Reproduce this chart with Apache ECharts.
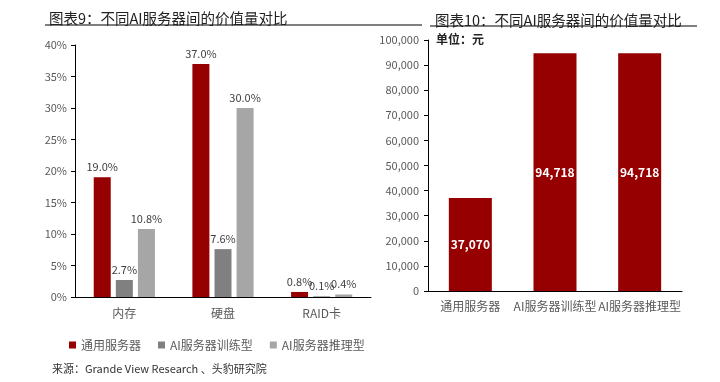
<!DOCTYPE html>
<html><head><meta charset="utf-8">
<script src="https://cdn.jsdelivr.net/npm/echarts@6/dist/echarts.min.js"></script>
<style>html,body{margin:0;padding:0;background:#fff}#c{width:720px;height:382px}</style>
</head><body><div id="c"></div>
<script>
// Left chart (图表9)
const leftCategories = ['内存', '硬盘', 'RAID卡'];
const seriesNames = ['通用服务器', 'AI服务器训练型', 'AI服务器推理型'];
const generalServer = [19.0, 37.0, 0.8];
const aiTraining = [2.7, 7.6, 0.1];
const aiInference = [10.8, 30.0, 0.4];
const leftTicks = [0, 5, 10, 15, 20, 25, 30, 35, 40];
// Right chart (图表10)
const rightCategories = ['通用服务器', 'AI服务器训练型', 'AI服务器推理型'];
const rightValues = [37070, 94718, 94718];

const colors = ['#960000', '#808080', '#A6A6A6'];
const FONT = '"Noto Sans CJK SC", "Noto Sans", sans-serif';
const chart = echarts.init(document.getElementById('c'));
const axisLineStyle = {color: '#000', width: 1};
const leftSeriesData = [generalServer, aiTraining, aiInference];

const option = {
  animation: false,
  textStyle: {fontFamily: FONT},
  title: [
    {text: '图表9：不同AI服务器间的价值量对比', left: 44, top: 6,
     textStyle: {fontSize: 14.5, fontWeight: 'normal', color: '#222', fontFamily: FONT}},
    {text: '图表10：不同AI服务器间的价值量对比', left: 430, top: 8,
     textStyle: {fontSize: 14.5, fontWeight: 'normal', color: '#222', fontFamily: FONT}},
    {text: '单位：元', left: 431, top: 28,
     textStyle: {fontSize: 12, fontWeight: 'bold', color: '#222', fontFamily: FONT}},
    {text: '来源：Grande View Research 、头豹研究院', left: 47, top: 358,
     textStyle: {fontSize: 11, fontWeight: 'normal', color: '#333', fontFamily: FONT}}
  ],
  graphic: [
    {type: 'line', shape: {x1: 45, y1: 25, x2: 422, y2: 25}, style: {stroke: '#000', lineWidth: 1}},
    {type: 'line', shape: {x1: 430, y1: 26, x2: 697, y2: 26}, style: {stroke: '#000', lineWidth: 1}}
  ],
  legend: {
    data: seriesNames, left: 64, top: 334, itemWidth: 7, itemHeight: 7, itemGap: 17,
    icon: 'rect', textStyle: {fontSize: 12, color: '#595959', fontFamily: FONT}
  },
  grid: [
    {left: 75, top: 45, width: 296, height: 252},
    {left: 428, top: 40, width: 254, height: 251}
  ],
  xAxis: [
    {type: 'category', gridIndex: 0, data: leftCategories,
     axisLine: {lineStyle: axisLineStyle}, axisTick: {length: 4, lineStyle: axisLineStyle},
     axisLabel: {fontSize: 12, color: '#595959', margin: 10, fontFamily: FONT}},
    {type: 'category', gridIndex: 1, data: rightCategories,
     axisLine: {lineStyle: axisLineStyle}, axisTick: {length: 4, lineStyle: axisLineStyle},
     axisLabel: {fontSize: 12, color: '#595959', margin: 9, interval: 0, fontFamily: FONT}}
  ],
  yAxis: [
    {type: 'value', gridIndex: 0, min: leftTicks[0], max: leftTicks[leftTicks.length - 1], interval: 5,
     axisLine: {show: true, lineStyle: axisLineStyle}, axisTick: {show: true, length: 4, lineStyle: axisLineStyle},
     splitLine: {show: false},
     axisLabel: {fontSize: 11, color: '#595959', margin: 8, formatter: v => v + '%'}},
    {type: 'value', gridIndex: 1, min: 0, max: 100000, interval: 10000,
     axisLine: {show: true, lineStyle: axisLineStyle}, axisTick: {show: true, length: 4, lineStyle: axisLineStyle},
     splitLine: {show: false},
     axisLabel: {fontSize: 11, color: '#595959', margin: 9, formatter: v => v.toLocaleString('en-US')}}
  ],
  series: seriesNames.map((name, i) => ({
    name, type: 'bar', xAxisIndex: 0, yAxisIndex: 0, data: leftSeriesData[i],
    barWidth: 17, barGap: '30%', itemStyle: {color: colors[i]},
    label: {show: true, position: 'top', distance: 5, fontSize: 11, color: '#404040',
            formatter: p => p.value.toFixed(1) + '%'}
  })).concat([{
    name: '价值量', type: 'bar', xAxisIndex: 1, yAxisIndex: 1, data: rightValues,
    barWidth: 43, itemStyle: {color: colors[0]},
    label: {show: true, position: 'inside', fontSize: 12, fontWeight: 'bold', color: '#fff',
            formatter: p => p.value.toLocaleString('en-US')}
  }])
};
chart.setOption(option);
</script></body></html>
